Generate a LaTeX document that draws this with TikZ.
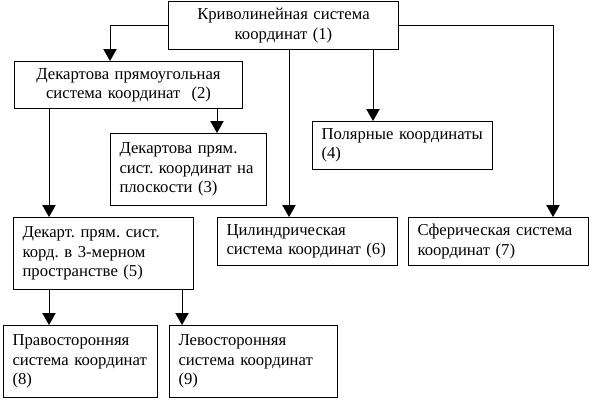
\documentclass[tikz,border=0pt]{standalone}
\usepackage{fontspec}
\setmainfont{Liberation Serif}
\usetikzlibrary{arrows.meta,calc}

\tikzset{
  blok/.style={draw, anchor=north west, inner xsep=6.75pt, inner ysep=0pt,
    align=left, font=\fontsize{12.5}{14.5}\selectfont\frenchspacing},
  blokc/.style={blok, align=center},
  strelka/.style={-{Triangle[width=10pt,length=9pt]}}
}

\begin{document}
\begin{tikzpicture}[x=0.75pt, y=-0.75pt, line width=0.75pt]
   \useasboundingbox (0,0) rectangle (592,400);
   % blocks, pixel corners
   \node[blokc, text width=172.5pt-13.5pt, minimum height=36pt] (b1) at (168,1) {Криволинейная система\\координат (1)};
   \node[blokc, text width=171pt-13.5pt, minimum height=35.25pt] (b2) at (14,61) {Декартова прямоугольная\\система координат~~(2)};
   \node[blok, text width=117pt-13.5pt, minimum height=54pt] (b3) at (110,133) {Декартова прям.\\сист. координат на\\плоскости (3)};
   \node[blok, text width=135pt-13.5pt, minimum height=36pt] (b4) at (312,121) {Полярные координаты\\(4)};
   \node[blok, text width=135pt-13.5pt, minimum height=54pt] (b5) at (13,217) {Декарт. прям. сист.\\корд. в 3-мерном\\пространстве (5)};
   \node[blok, text width=135pt-13.5pt, minimum height=36pt] (b6) at (217,217) {Цилиндрическая\\система координат (6)};
   \node[blok, text width=135pt-13.5pt, minimum height=36pt] (b7) at (408,217) {Сферическая система\\координат (7)};
   \node[blok, text width=115.5pt-13.5pt, minimum height=54pt] (b8) at (3,325) {Правосторонняя\\система координат\\(8)};
   \node[blok, text width=126pt-13.5pt, minimum height=54pt] (b9) at (169,325) {Левосторонняя\\система координат\\(9)};
   % arrows
   \draw[strelka] (b1.west) -| ($(b2.north west)+(96,0)$);
   \draw[strelka] (b1.east) -| ($(b7.north west)+(145,0)$);
   \draw[strelka] ($(b1.south west)+(121,0)$) coordinate (s6) -- (s6 |- b6.north);
   \draw[strelka] ($(b1.south west)+(205,0)$) coordinate (s4) -- (s4 |- b4.north);
   \draw[strelka] ($(b2.south west)+(203,0)$) coordinate (s3) -- (s3 |- b3.north);
   \draw[strelka] ($(b2.south west)+(35,0)$) coordinate (s5) -- (s5 |- b5.north);
   \draw[strelka] ($(b5.south west)+(36,0)$) coordinate (s8) -- (s8 |- b8.north);
   \draw[strelka] ($(b5.south west)+(169,0)$) coordinate (s9) -- (s9 |- b9.north);
\end{tikzpicture}
\end{document}
